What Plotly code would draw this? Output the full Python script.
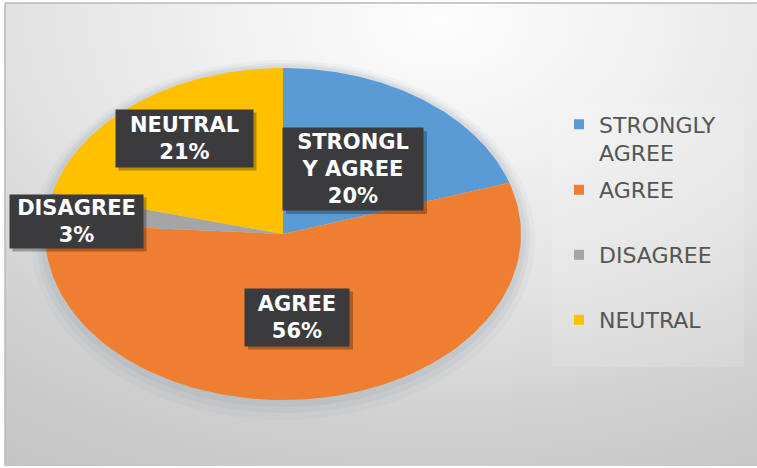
import numpy as np
import plotly.graph_objects as go

# Survey responses (percent of respondents)
categories = ["STRONGLY AGREE", "AGREE", "DISAGREE", "NEUTRAL"]
values = [20, 56, 3, 21]
legend_names = ["STRONGLY<br>AGREE", "AGREE", "DISAGREE", "NEUTRAL"]
label_names = ["STRONGL<br>Y AGREE", "AGREE", "DISAGREE", "NEUTRAL"]
colors = ["#5B9BD5", "#EF7F30", "#A5A5A5", "#FFC000"]

W, H = 757, 468
ML, MT, MB = 5, 3, 2

# Elliptical pie geometry (pixel-mapped axes)
CX, CY, RX, RY = 283, 234, 238, 166

# Data-label boxes: centre x, centre y, width, height
label_boxes = [(353, 169, 140, 82), (297, 317, 104, 57), (76, 221, 133, 53), (184, 138, 137, 57)]

# Legend entries: centre y of each entry (pixels)
legend_rows = [139, 190, 255, 320]

fig = go.Figure()

# Background: soft radial vignette, brightest near the top centre
gx0, gx1, gy0, gy1 = -400, 1280, -540, 580
fig.add_trace(go.Scatter(
    x=[gx0, gx1, gx1, gx0, gx0], y=[gy0, gy0, gy1, gy1, gy0],
    mode="lines", line=dict(width=0), fill="toself",
    fillgradient=dict(type="radial", colorscale=[
        [0.0, "#fdfdfd"], [0.25, "#f1f1f1"], [0.5, "#e2e2e2"],
        [0.75, "#cecece"], [1.0, "#c2c2c2"]]),
    hoverinfo="skip", showlegend=False))

# Soft shadow around the pie
t = np.linspace(0, 2 * np.pi, 241)
for grow, dy, alpha in [(14, 6, 0.06), (9, 4, 0.08), (5, 2, 0.10)]:
    fig.add_trace(go.Scatter(
        x=CX + (RX + grow) * np.sin(t), y=CY + dy - (RY + grow) * np.cos(t),
        mode="lines", line=dict(width=0), fill="toself",
        fillcolor=f"rgba(120,135,155,{alpha})", hoverinfo="skip", showlegend=False))

# Pie wedges, clockwise from 12 o'clock
total = sum(values)
bounds = np.concatenate([[0], np.cumsum(values)]) / total
for i, cat in enumerate(categories):
    a = np.linspace(bounds[i], bounds[i + 1], 120) * 2 * np.pi
    xs = np.concatenate([[CX], CX + RX * np.sin(a), [CX]])
    ys = np.concatenate([[CY], CY - RY * np.cos(a), [CY]])
    fig.add_trace(go.Scatter(
        x=xs, y=ys, mode="lines", line=dict(width=0), fill="toself",
        fillcolor=colors[i], name=cat, hoverinfo="name", showlegend=False))

# Legend entries, one legend per row
legend_cfg = {}
for i, cat in enumerate(categories):
    key = "legend" if i == 0 else f"legend{i + 1}"
    fig.add_trace(go.Scatter(
        x=[None], y=[None], mode="markers", name=legend_names[i],
        marker=dict(symbol="square", size=10, color=colors[i]),
        legend=key, showlegend=True))
    legend_cfg[key] = dict(
        x=(559 - ML) / (W - ML), xanchor="left",
        y=1 - (legend_rows[i] - MT) / (H - MT - MB), yanchor="middle",
        bgcolor="rgba(0,0,0,0)", borderwidth=0, valign="top",
        font=dict(family="DejaVu Sans", size=22, color="#555555"))

shapes = [
    # legend panel
    dict(type="rect", xref="x", yref="y", x0=552, x1=744, y0=105, y1=367,
         fillcolor="rgba(255,255,255,0.12)", line=dict(width=0), layer="above"),
    # frame lines
    dict(type="line", xref="paper", yref="paper", x0=0, x1=0, y0=0, y1=1,
         line=dict(color="#b8b8b8", width=1.5)),
    dict(type="line", xref="paper", yref="paper", x0=0, x1=1, y0=1, y1=1,
         line=dict(color="#b8b8b8", width=1.5)),
]

annotations = []
for i, (bx, by, bw, bh) in enumerate(label_boxes):
    shapes.append(dict(type="rect", xref="x", yref="y",
                       x0=bx - bw / 2 + 3, x1=bx + bw / 2 + 4,
                       y0=by - bh / 2 + 3, y1=by + bh / 2 + 4,
                       fillcolor="rgba(0,0,0,0.28)", line=dict(width=0), layer="above"))
    annotations.append(dict(
        x=bx, y=by, xref="x", yref="y", xanchor="center", yanchor="middle",
        text=f"<b>{label_names[i]}<br>{values[i]}%</b>", showarrow=False,
        width=bw, height=bh, borderpad=0, bgcolor="#3b3b3d",
        font=dict(family="DejaVu Sans", size=21, color="#ffffff"), align="center"))

fig.update_layout(
    width=W, height=H, autosize=False,
    margin=dict(l=ML, r=0, t=MT, b=MB),
    paper_bgcolor="#ffffff", plot_bgcolor="#dcdcdc",
    xaxis=dict(range=[ML, W], visible=False, fixedrange=True),
    yaxis=dict(range=[H - MB, MT], visible=False, fixedrange=True),
    shapes=shapes, annotations=annotations,
    **legend_cfg,
)

fig.write_html("out.html")
